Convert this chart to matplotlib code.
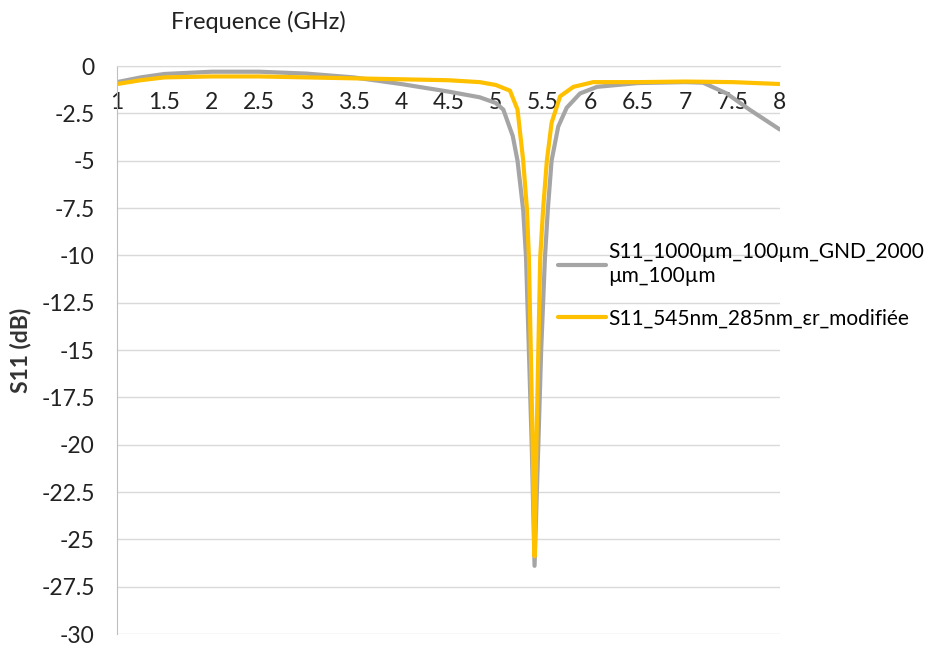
import matplotlib
matplotlib.use("Agg")
import matplotlib.pyplot as plt

plt.rcParams['font.family'] = ['Lato', 'DejaVu Sans']

# Frequence (GHz) / S11 (dB)
freq_ref = [1.0, 1.25, 1.5, 2.0, 2.5, 3.0, 3.5, 4.0, 4.5, 4.83, 5.0, 5.08, 5.18, 5.23,
            5.29, 5.32, 5.35, 5.38, 5.41, 5.45, 5.48, 5.52, 5.55, 5.59, 5.66, 5.75,
            5.89, 6.07, 6.5, 7.0, 7.19, 7.44, 7.68, 8.0]
s11_ref = [-0.85, -0.6, -0.42, -0.3, -0.3, -0.4, -0.6, -0.95, -1.35, -1.65, -1.95, -2.3, -3.7, -5.0,
           -7.6, -10.1, -15.0, -20.0, -26.4, -20.0, -15.0, -10.1, -7.6, -5.0, -3.2, -2.2,
           -1.45, -1.1, -0.9, -0.85, -0.88, -1.45, -2.3, -3.35]

freq_mod = [1.0, 1.25, 1.5, 2.0, 2.5, 3.0, 3.5, 4.0, 4.5, 4.83, 5.0, 5.15, 5.23, 5.29,
            5.33, 5.35, 5.37, 5.39, 5.41, 5.43, 5.45, 5.47, 5.50, 5.54, 5.59, 5.68,
            5.82, 6.03, 6.5, 7.0, 7.5, 8.0]
s11_mod = [-0.95, -0.75, -0.6, -0.55, -0.55, -0.6, -0.65, -0.7, -0.75, -0.85, -1.0, -1.3, -2.3, -5.0,
           -7.6, -10.1, -15.0, -20.0, -25.9, -20.0, -15.0, -10.1, -7.6, -5.0, -3.0, -1.6,
           -1.1, -0.85, -0.85, -0.82, -0.85, -0.95]

x_ticks = [1, 1.5, 2, 2.5, 3, 3.5, 4, 4.5, 5, 5.5, 6, 6.5, 7, 7.5, 8]
y_ticks = [0, -2.5, -5, -7.5, -10, -12.5, -15, -17.5, -20, -22.5, -25, -27.5, -30]

label_ref = "S11_1000µm_100µm_GND_2000\nµm_100µm"
label_mod = "S11_545nm_285nm_εr_modifiée"

fig = plt.figure(figsize=(9.44, 6.48), dpi=100)
ax = fig.add_axes([0.124, 0.0216, 0.702, 0.8765])

ax.plot(freq_ref, s11_ref, color='#A5A5A5', linewidth=3.0, label=label_ref, solid_capstyle='round')
ax.plot(freq_mod, s11_mod, color='#FFC000', linewidth=3.0, label=label_mod, solid_capstyle='round')

ax.set_xlim(1, 8)
ax.set_ylim(-30, 0)
ax.set_yticks(y_ticks)
ax.set_yticklabels([f"{v:g}" for v in y_ticks])
ax.set_xticks(x_ticks)
ax.set_xticklabels([f"{v:g}" for v in x_ticks])

# axe horizontal qui coupe en 0 (comme Excel)
ax.spines['bottom'].set_position(('data', 0))
ax.spines['bottom'].set_color('#D9D9D9')
ax.spines['top'].set_visible(False)
ax.spines['right'].set_visible(False)
ax.spines['left'].set_color('#BFBFBF')
ax.tick_params(axis='x', length=0, pad=19, labelsize=16.5, colors='#222222')
ax.tick_params(axis='y', length=0, pad=16, labelsize=16.5, colors='#222222')

ax.yaxis.grid(True, color='#D9D9D9', linewidth=1)
ax.set_axisbelow(True)

fig.text(258 / 944, 1 - 22 / 648, "Frequence (GHz)", ha='center', va='center',
         fontsize=17, color='#222222')
ax.set_ylabel("S11 (dB)", fontsize=16.5, fontweight='bold', color='#333333')
ax.yaxis.set_label_coords(-0.13, 0.5)

ax.legend(loc='upper left', bbox_to_anchor=(548 / 944, 1 - 232 / 648),
          bbox_transform=fig.transFigure, frameon=False, fontsize=15,
          handlelength=2.3, handletextpad=0.1, labelspacing=1.1, borderpad=0)

fig.savefig("out.png", dpi=100)
